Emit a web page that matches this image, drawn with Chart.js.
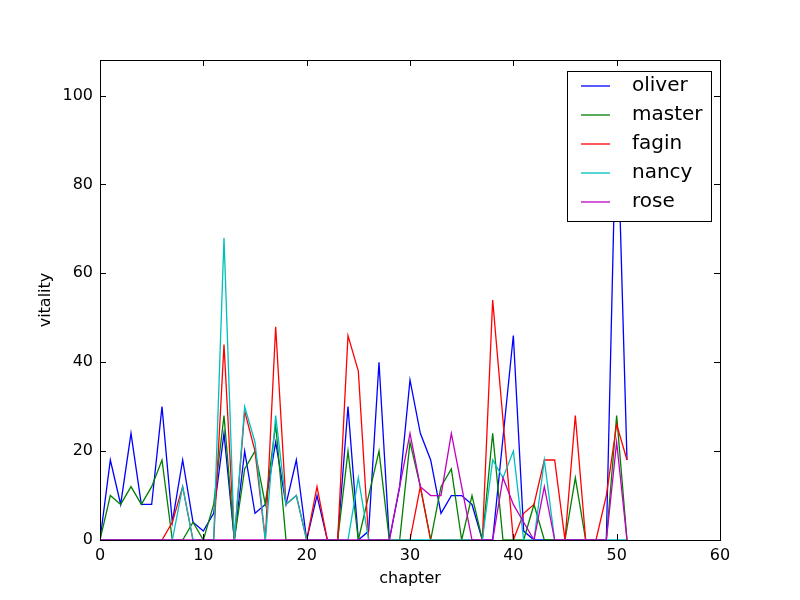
<!DOCTYPE html>
<html>
<head>
<meta charset="utf-8">
<script src="https://cdn.jsdelivr.net/npm/chart.js@4"></script>
<style>
  body { margin: 0; background: #fff; }
  canvas { display: block; }
</style>
</head>
<body>
<canvas id="vitalityChart" width="800" height="600"></canvas>
<script>
// chapter-by-chapter vitality per character
const chapters = [];
for (let i = 0; i <= 51; i++) chapters.push(i);

const oliver = [0, 18, 8, 24, 8, 8, 30, 4, 18, 4, 2, 6, 24, 0, 20, 6, 8, 22, 8, 18,
  0, 10, 0, 0, 30, 0, 2, 40, 0, 12, 36, 24, 18, 6, 10, 10, 8, 0, 0, 23,
  46, 2, 0, 0, 0, 0, 0, 0, 0, 0, 100, 18];
const master = [0, 10, 8, 12, 8, 12, 18, 0, 0, 4, 0, 8, 28, 0, 16, 20, 8, 26, 0, 0,
  0, 0, 0, 0, 20, 0, 10, 20, 0, 0, 22, 12, 0, 12, 16, 0, 10, 0, 24, 0,
  0, 0, 8, 0, 0, 0, 14, 0, 0, 0, 28, 0];
const fagin = [0, 0, 0, 0, 0, 0, 0, 4, 12, 0, 0, 0, 44, 0, 29, 20, 0, 48, 8, 10,
  0, 12, 0, 0, 46, 38, 0, 0, 0, 0, 0, 12, 0, 0, 0, 0, 0, 0, 54, 27,
  0, 6, 8, 18, 18, 0, 28, 0, 0, 10, 26, 18];
const nancy = [0, 0, 0, 0, 0, 0, 0, 0, 12, 0, 0, 0, 68, 0, 30, 22, 0, 28, 8, 10,
  0, 0, 0, 0, 0, 14, 0, 0, 0, 0, 0, 0, 0, 0, 0, 0, 0, 0, 18, 14,
  20, 0, 0, 18, 0, 0, 0, 0, 0, 0, 0, 0];
const rose = [0, 0, 0, 0, 0, 0, 0, 0, 0, 0, 0, 0, 0, 0, 0, 0, 0, 0, 0, 0,
  0, 0, 0, 0, 0, 0, 0, 0, 0, 12, 24, 12, 10, 10, 24, 12, 0, 0, 0, 14,
  8, 4, 0, 12, 0, 0, 0, 0, 0, 0, 22, 0];

const seriesNames = ['oliver', 'master', 'fagin', 'nancy', 'rose'];
const seriesValues = [oliver, master, fagin, nancy, rose];
const seriesColors = ['#0000ff', '#008000', '#ff0000', '#00bfbf', '#bf00bf'];

const xTicks = [0, 10, 20, 30, 40, 50, 60];
const yTicks = [0, 20, 40, 60, 80, 100];

Chart.defaults.font.family = '"DejaVu Sans", sans-serif';
Chart.defaults.font.size = 16;
Chart.defaults.color = '#000';

// matplotlib-ish frame with inward ticks on all four sides
const framePlugin = {
  id: 'frame',
  afterDatasetsDraw(chart) {
    const {ctx, chartArea: a, scales} = chart;
    ctx.save();
    ctx.strokeStyle = '#000';
    ctx.lineWidth = 1;
    ctx.strokeRect(a.left + 0.5, a.top + 0.5, a.right - a.left, a.bottom - a.top);
    const len = 6;
    ctx.beginPath();
    xTicks.forEach(v => {
      const px = Math.round(scales.x.getPixelForValue(v)) + 0.5;
      ctx.moveTo(px, a.bottom); ctx.lineTo(px, a.bottom - len);
      ctx.moveTo(px, a.top); ctx.lineTo(px, a.top + len);
    });
    yTicks.forEach(v => {
      const py = Math.round(scales.y.getPixelForValue(v)) + 0.5;
      ctx.moveTo(a.left, py); ctx.lineTo(a.left + len, py);
      ctx.moveTo(a.right, py); ctx.lineTo(a.right - len, py);
    });
    ctx.stroke();
    ctx.restore();
  },
  afterDraw(chart) {
    // legend box in the upper right, drawn over the lines
    const {ctx, chartArea: a} = chart;
    const boxL = a.right - 153, boxT = a.top + 11, boxW = 144, boxH = 150;
    ctx.save();
    ctx.fillStyle = '#fff';
    ctx.fillRect(boxL, boxT, boxW, boxH);
    ctx.strokeStyle = '#000';
    ctx.lineWidth = 1;
    ctx.strokeRect(boxL + 0.5, boxT + 0.5, boxW, boxH);
    ctx.font = '20px "DejaVu Sans", sans-serif';
    ctx.textBaseline = 'middle';
    ctx.fillStyle = '#000';
    chart.data.datasets.forEach((ds, i) => {
      const y = boxT + 15 + i * 29;
      ctx.strokeStyle = ds.borderColor;
      ctx.lineWidth = 1.3;
      ctx.beginPath();
      ctx.moveTo(boxL + 14, y);
      ctx.lineTo(boxL + 43, y);
      ctx.stroke();
      ctx.fillText(ds.label, boxL + 65, y);
    });
    ctx.restore();
  }
};

const ctx = document.getElementById('vitalityChart');

new Chart(ctx, {
  type: 'line',
  data: {
    datasets: seriesNames.map((name, i) => ({
      label: name,
      data: chapters.map((c, j) => ({x: c, y: seriesValues[i][j]})),
      borderColor: seriesColors[i],
      backgroundColor: seriesColors[i],
      borderWidth: 1.3,
      pointRadius: 0,
      tension: 0,
      fill: false,
      order: seriesNames.length - 1 - i
    }))
  },
  options: {
    responsive: false,
    animation: false,
    devicePixelRatio: 1,
    layout: { padding: { left: 0, right: 80, top: 60, bottom: 0 } },
    scales: {
      x: {
        type: 'linear',
        min: 0,
        max: 60,
        afterFit(scale) { scale.height = 60; },
        ticks: { stepSize: 10, padding: 6, maxRotation: 0 },
        grid: { display: false, drawTicks: false },
        border: { display: false },
        title: { display: true, text: 'chapter', padding: { top: 0, bottom: 12 } }
      },
      y: {
        min: 0,
        max: 108,
        afterFit(scale) { scale.width = 100; },
        ticks: { stepSize: 20, padding: 7, includeBounds: false },
        grid: { display: false, drawTicks: false },
        border: { display: false },
        title: { display: true, text: 'vitality', padding: { top: 36, bottom: 0 } }
      }
    },
    plugins: {
      legend: { display: false },
      tooltip: { enabled: false }
    }
  },
  plugins: [framePlugin]
});
</script>
</body>
</html>
